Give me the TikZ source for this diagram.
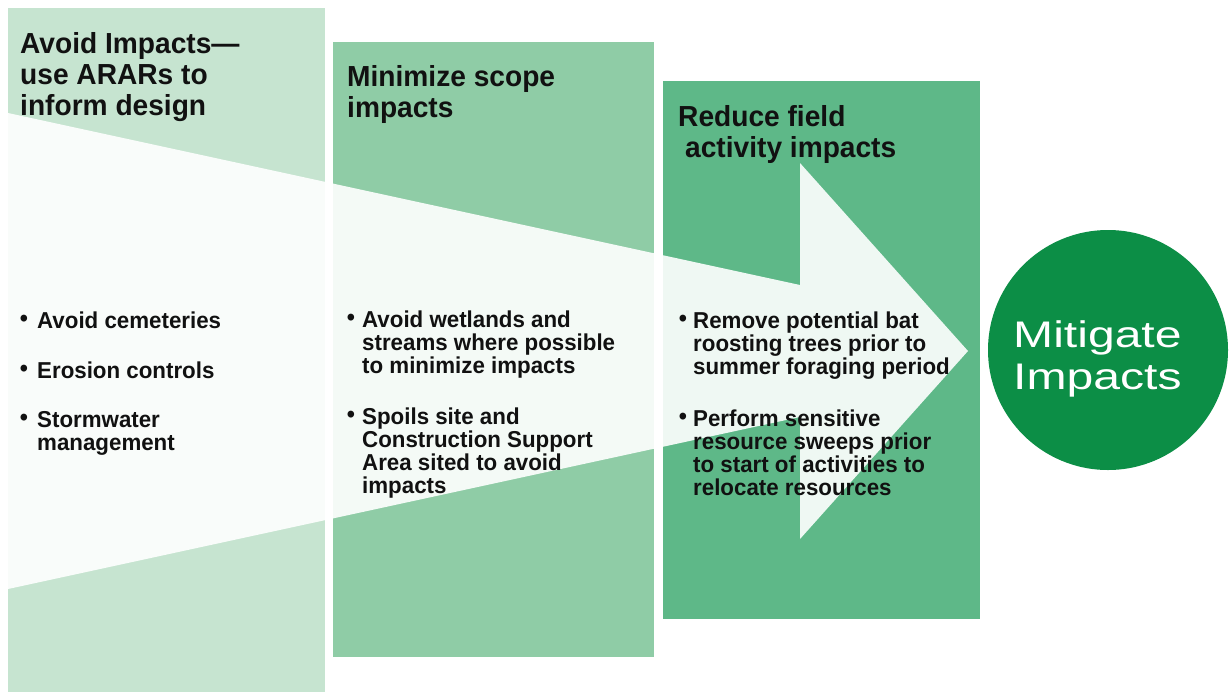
\documentclass[tikz,border=0pt]{standalone}
\usepackage{fontspec}
\setmainfont{Liberation Sans}
\newfontfamily\narrowfont[FakeStretch=0.97]{Liberation Sans}
\newfontfamily\widefont[FakeStretch=1.3]{Liberation Sans}
\definecolor{stageA}{HTML}{C6E4D0}
\definecolor{stageB}{HTML}{8FCCA6}
\definecolor{stageC}{HTML}{5EB888}
\definecolor{goalgreen}{HTML}{0C8E46}
\definecolor{inktext}{HTML}{111111}
\begin{document}
\begin{tikzpicture}[x=1pt,y=-1pt,
  stagebox/.style={draw=none, anchor=north west, inner sep=0pt, outer sep=0pt},
  headtxt/.style={anchor=north west, inner sep=0pt, align=left, text=inktext,
    font=\narrowfont\bfseries\fontsize{29}{31}\selectfont},
  itemtxt/.style={anchor=north west, inner sep=0pt, align=left, text=inktext,
    font=\narrowfont\bfseries\fontsize{23}{23}\selectfont},
  bul/.style={anchor=base, inner sep=0pt, text=inktext, font=\narrowfont\bfseries\fontsize{24}{24}\selectfont},
  goal/.style={circle, fill=goalgreen, minimum size=240pt, inner sep=0pt},
  goaltxt/.style={anchor=north west, inner sep=0pt, align=left, text=white,
    font=\widefont\fontsize{37}{42}\selectfont}
]
\useasboundingbox (0,0) rectangle (1229,694);
\fill[white] (0,0) rectangle (1229,694);

% three overlapping stage panels
\node[stagebox, fill=stageA, minimum width=317pt, minimum height=684pt] (avoid) at (8,8) {};
\node[stagebox, fill=stageB, minimum width=321pt, minimum height=615pt] (minimize) at (333,42) {};
\node[stagebox, fill=stageC, minimum width=317pt, minimum height=538pt] (reduce) at (663,81) {};

% the broad white arrow running through the panels
\fill[white, opacity=0.9]
  (8,113) -- (800,285) -- (800,163) -- (968,351) -- (800,539) -- (800,417) -- (8,589) -- cycle;

% panel headings
\node[headtxt] (avoidhead) at (20,32) {Avoid Impacts—\\use ARARs to\\inform design};
\node[headtxt] (minhead) at (347,65) {Minimize scope\\impacts};
\node[headtxt] (redhead) at (678,105) {Reduce field\\\hspace*{7pt}activity impacts};

% first panel bullets
\node[bul] (a1b) at (24,326) {•};
\node[itemtxt] (a1) at (37,312) {Avoid cemeteries};
\node[bul] (a2b) at (24,376) {•};
\node[itemtxt] (a2) at (37,362) {Erosion controls};
\node[bul] (a3b) at (24,425) {•};
\node[itemtxt] (a3) at (37,411) {Stormwater\\management};

% second panel bullets
\node[bul] (m1b) at (351,325) {•};
\node[itemtxt] (m1) at (362,311) {Avoid wetlands and\\streams where possible\\to minimize impacts};
\node[bul] (m2b) at (351,422) {•};
\node[itemtxt] (m2) at (362,408) {Spoils site and\\Construction Support\\Area sited to avoid\\impacts};

% third panel bullets
\node[bul] (r1b) at (683,326) {•};
\node[itemtxt] (r1) at (693,312) {Remove potential bat\\roosting trees prior to\\summer foraging period};
\node[bul] (r2b) at (683,424) {•};
\node[itemtxt] (r2) at (693,410) {Perform sensitive\\resource sweeps prior\\to start of activities to\\relocate resources};

% goal circle
\node[goal] (mitigate) at (1108,350) {};
\node[goaltxt] (mitigatetxt) at (1013,320) {Mitigate\\Impacts};
\end{tikzpicture}
\end{document}
